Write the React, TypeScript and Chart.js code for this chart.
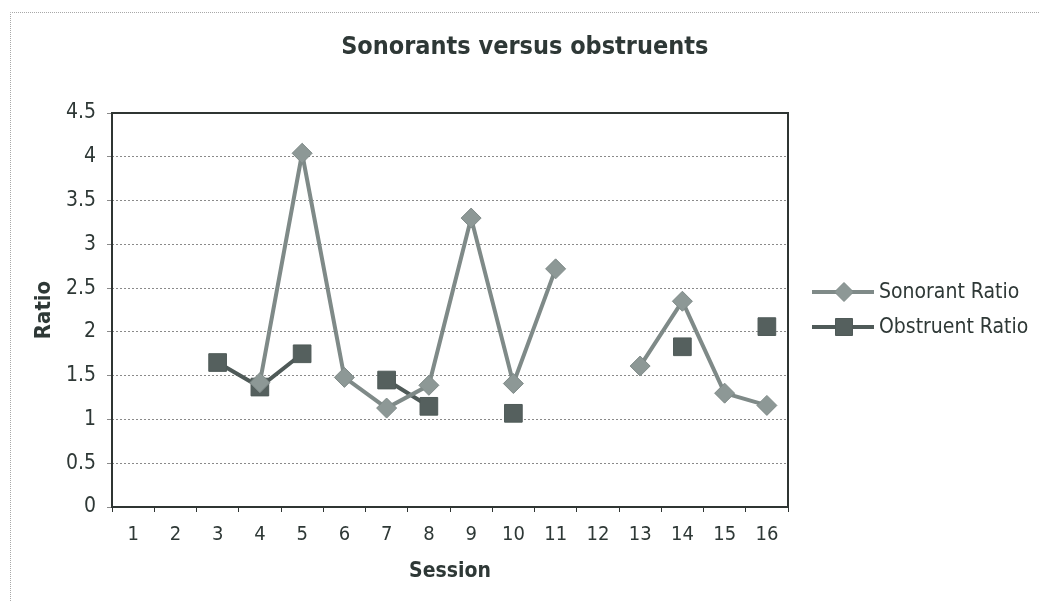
import { useEffect, useRef } from "react";
import { Chart, registerables } from "chart.js";

Chart.register(...registerables);

const sessions = ["1", "2", "3", "4", "5", "6", "7", "8", "9", "10", "11", "12", "13", "14", "15", "16"];
const sonorantRatio = [null, null, null, 1.42, 4.04, 1.48, 1.13, 1.39, 3.3, 1.41, 2.72, null, 1.61, 2.35, 1.3, 1.16];
const obstruentRatio = [null, null, 1.65, 1.37, 1.75, null, 1.45, 1.15, null, 1.07, null, null, null, 1.83, null, 2.06];
const seriesNames = ["Sonorant Ratio", "Obstruent Ratio"];
const chartTitle = "Sonorants versus obstruents";
const yMin = 0;
const yMax = 4.5;
const yStep = 0.5;

const FONT = "'DejaVu Sans Condensed', 'DejaVu Sans', sans-serif";
const TEXT = "#2e3836";
const SON_LINE = "#7f8a88";
const SON_FILL = "#8d9896";
const OBS_LINE = "#4f5a58";
const OBS_FILL = "#55605e";
const FRAME_LEFT = 10.5;
const FRAME_TOP = 12.5;

// Dotted frame around the whole chart object, and the chart title centred in it
const frame = {
  id: "frame",
  beforeDraw(chart: any) {
    const { ctx, width, height } = chart;
    ctx.save();
    ctx.fillStyle = "#ffffff";
    ctx.fillRect(0, 0, width, height);
    ctx.strokeStyle = "#a8a8a8";
    ctx.lineWidth = 1;
    ctx.setLineDash([1, 1]);
    ctx.beginPath();
    ctx.moveTo(FRAME_LEFT, height);
    ctx.lineTo(FRAME_LEFT, FRAME_TOP);
    ctx.lineTo(width, FRAME_TOP);
    ctx.stroke();
    ctx.setLineDash([]);
    ctx.fillStyle = TEXT;
    ctx.font = `bold 25px ${FONT}`;
    ctx.textAlign = "center";
    ctx.textBaseline = "middle";
    ctx.fillText(chartTitle, (FRAME_LEFT + width) / 2, 47);
    ctx.restore();
  },
};

// Solid border around the plot area
const plotBorder = {
  id: "plotBorder",
  beforeDatasetsDraw(chart: any) {
    const { ctx, chartArea } = chart;
    ctx.save();
    ctx.strokeStyle = "#2f3533";
    ctx.lineWidth = 2;
    ctx.strokeRect(chartArea.left, chartArea.top, chartArea.right - chartArea.left, chartArea.bottom - chartArea.top);
    ctx.restore();
  },
};

function drawMarker(ctx: CanvasRenderingContext2D, style: string, x: number, y: number, r: number, fill: string, stroke: string) {
  ctx.beginPath();
  if (style === "rectRot") {
    ctx.moveTo(x, y - r);
    ctx.lineTo(x + r, y);
    ctx.lineTo(x, y + r);
    ctx.lineTo(x - r, y);
    ctx.closePath();
  } else {
    const h = r * Math.SQRT1_2;
    ctx.rect(x - h, y - h, 2 * h, 2 * h);
  }
  ctx.fillStyle = fill;
  ctx.fill();
  ctx.strokeStyle = stroke;
  ctx.lineWidth = 1;
  ctx.stroke();
}

// Legend to the right of the plot: line sample with marker, then the series name
const sideLegend = {
  id: "sideLegend",
  afterDraw(chart: any) {
    const { ctx, chartArea } = chart;
    const x0 = chartArea.right + 24;
    const midY = (chartArea.top + chartArea.bottom) / 2;
    const rows = [midY - 18, midY + 17];
    ctx.save();
    chart.data.datasets.forEach((ds: any, i: number) => {
      const y = rows[i];
      ctx.strokeStyle = ds.borderColor;
      ctx.lineWidth = 4;
      ctx.beginPath();
      ctx.moveTo(x0, y);
      ctx.lineTo(x0 + 62, y);
      ctx.stroke();
      drawMarker(ctx, ds.pointStyle, x0 + 32, y, ds.pointStyle === "rectRot" ? 9.5 : 12, ds.pointBackgroundColor, ds.pointBorderColor);
      ctx.fillStyle = TEXT;
      ctx.font = `21px ${FONT}`;
      ctx.textBaseline = "middle";
      ctx.textAlign = "left";
      ctx.fillText(ds.label, x0 + 67, y + 1);
    });
    ctx.restore();
  },
};

export default function App() {
  const ref = useRef<HTMLCanvasElement | null>(null);

  useEffect(() => {
    if (!ref.current) return;
    const chart = new Chart(ref.current, {
      type: "line",
      data: {
        labels: sessions,
        datasets: [
          {
            label: seriesNames[0],
            data: sonorantRatio,
            borderColor: SON_LINE,
            borderWidth: 4,
            pointStyle: "rectRot",
            pointRadius: 10,
            pointBackgroundColor: SON_FILL,
            pointBorderColor: SON_LINE,
            pointBorderWidth: 1,
            spanGaps: false,
            tension: 0,
          },
          {
            label: seriesNames[1],
            data: obstruentRatio,
            borderColor: OBS_LINE,
            borderWidth: 4,
            pointStyle: "rect",
            pointRadius: 12.5,
            pointBackgroundColor: OBS_FILL,
            pointBorderColor: OBS_LINE,
            pointBorderWidth: 1,
            spanGaps: false,
            tension: 0,
          },
        ] as any,
      },
      options: {
        responsive: false,
        animation: false,
        layout: { padding: { left: 0, right: 251, top: 113, bottom: 0 } },
        plugins: {
          legend: { display: false },
          tooltip: { enabled: false },
          title: { display: false },
        },
        scales: {
          x: {
            type: "category",
            offset: true,
            grid: {
              offset: true,
              drawOnChartArea: false,
              drawTicks: true,
              tickLength: 5,
              tickColor: "#2f3533",
            },
            border: { display: false },
            ticks: {
              autoSkip: false,
              maxRotation: 0,
              padding: 11,
              color: TEXT,
              font: { family: FONT, size: 20 },
            },
            title: {
              display: true,
              text: "Session",
              color: TEXT,
              font: { family: FONT, size: 21, weight: "bold" },
              padding: { top: 0, bottom: 17 },
            },
            afterFit(scale: any) {
              scale.height = 94;
            },
          },
          y: {
            min: yMin,
            max: yMax,
            ticks: {
              stepSize: yStep,
              padding: 11,
              color: TEXT,
              font: { family: FONT, size: 21 },
              callback: (v: any) => String(v),
            },
            grid: {
              color: "#8a8a8a",
              lineWidth: 1,
              tickLength: 5,
              tickColor: "#8a8a8a",
            },
            border: { display: false, dash: [2, 2] },
            title: {
              display: true,
              text: "Ratio",
              color: TEXT,
              font: { family: FONT, size: 22, weight: "bold" },
              padding: { top: 31, bottom: 0 },
            },
            afterFit(scale: any) {
              scale.width = 112;
            },
          },
        },
      },
      plugins: [frame, plotBorder, sideLegend],
    } as any);
    return () => chart.destroy();
  }, []);

  return (
    <div style={{ position: "absolute", left: 0, top: 0, width: 1039, height: 601 }}>
      <canvas ref={ref} width={1039} height={601} />
    </div>
  );
}
